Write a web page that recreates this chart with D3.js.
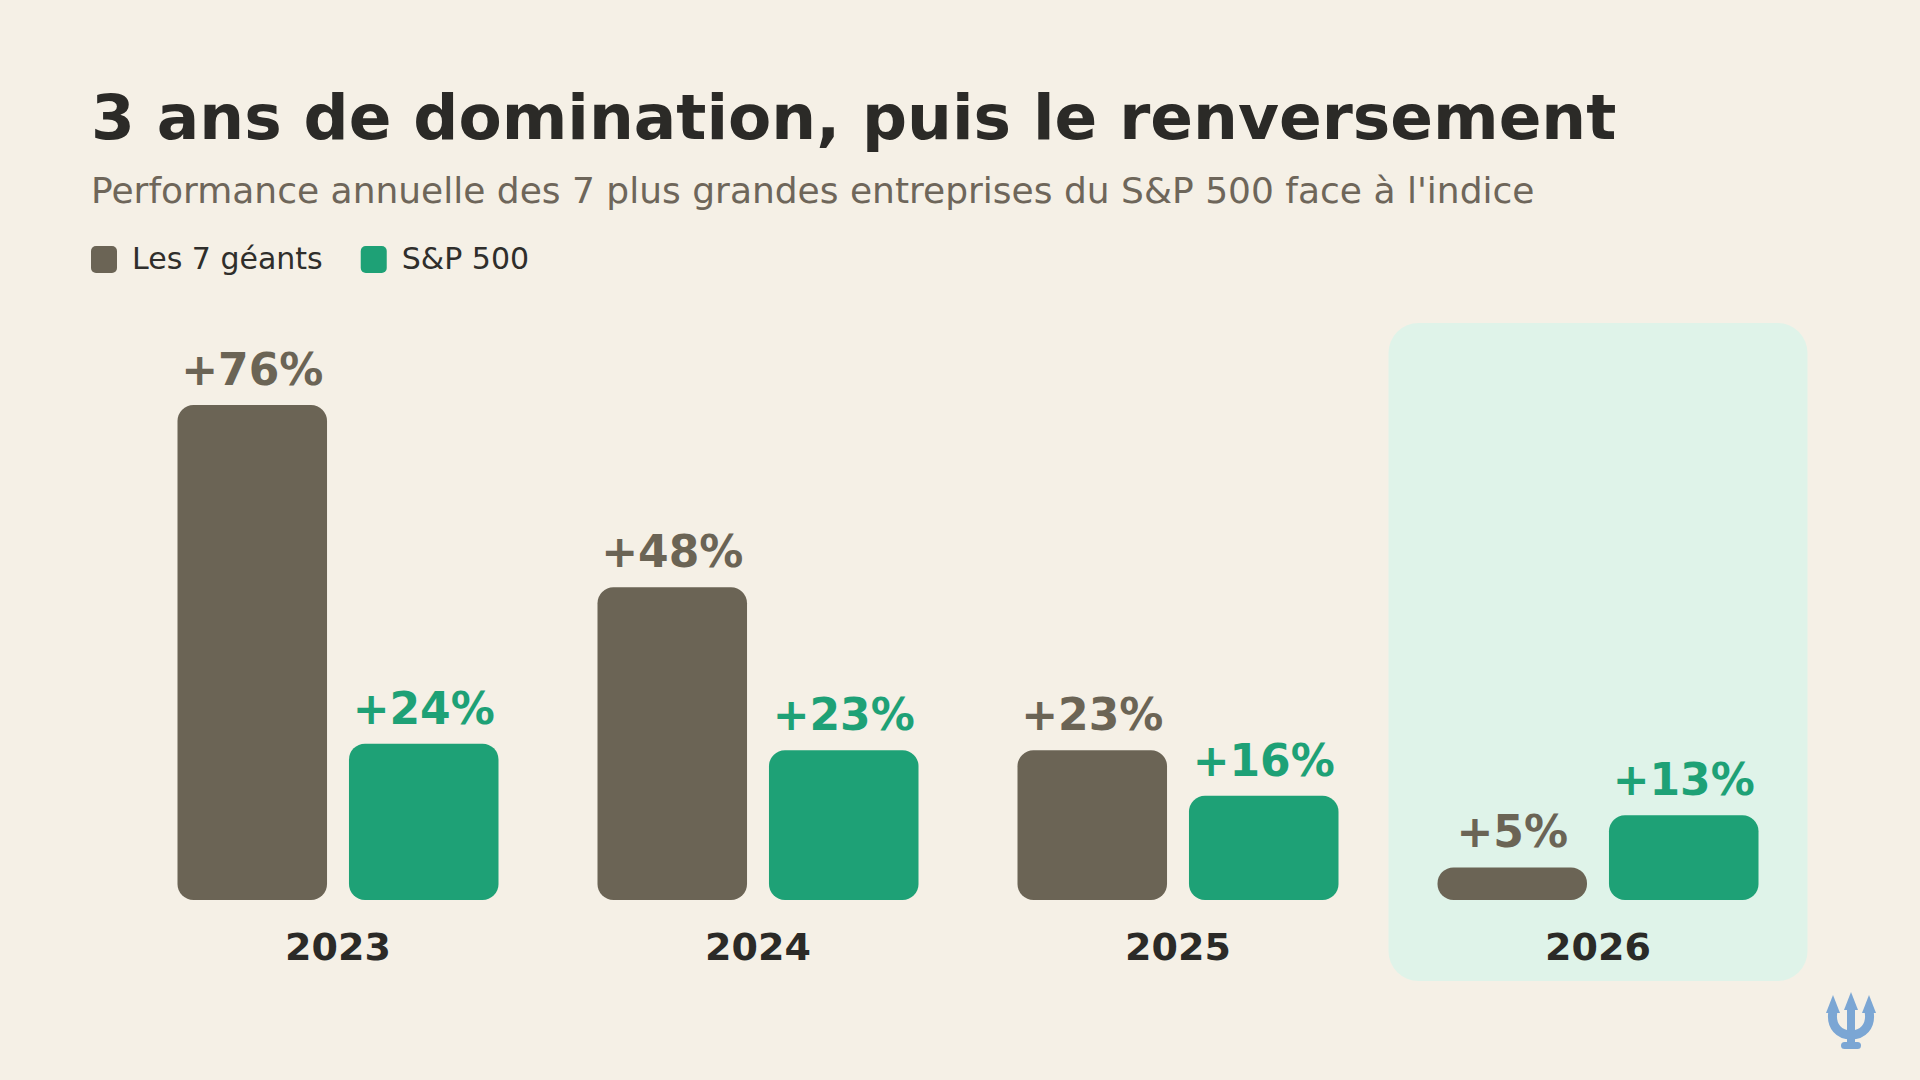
<!DOCTYPE html>
<html lang="fr">
<head>
<meta charset="utf-8">
<title>3 ans de domination, puis le renversement</title>
<script src="https://cdn.jsdelivr.net/npm/d3@7"></script>
<style>
  html, body { margin: 0; padding: 0; background: #f5f0e6; }
  svg { display: block; font-family: "DejaVu Sans", sans-serif; }
</style>
</head>
<body>
<div id="chart"></div>
<script>
// --- data ---
const years = ['2023', '2024', '2025', '2026'];
const seriesKeys = ['geants', 'sp500'];
const seriesLabels = ['Les 7 géants', 'S&P 500'];
const geants = [76, 48, 23, 5];
const sp500 = [24, 23, 16, 13];
const highlightYear = '2026';

const colors = { geants: '#6b6455', sp500: '#1ea176' };
const values = { geants, sp500 };

const width = 1920;
const height = 1080;

const svg = d3.select('#chart').append('svg')
  .attr('width', width)
  .attr('height', height)
  .attr('viewBox', `0 0 ${width} ${height}`);

svg.append('rect')
  .attr('width', width)
  .attr('height', height)
  .attr('fill', '#f5f0e6');

// title + subtitle
svg.append('text')
  .attr('x', 91).attr('y', 139)
  .attr('font-size', 63).attr('font-weight', 'bold')
  .attr('fill', '#2b2a27')
  .text('3 ans de domination, puis le renversement');

svg.append('text')
  .attr('x', 91).attr('y', 203)
  .attr('font-size', 36)
  .attr('fill', '#6e665a')
  .text("Performance annuelle des 7 plus grandes entreprises du S&P 500 face à l'indice");

// legend
const legend = svg.append('g').attr('transform', 'translate(91,246)');
let lx = 0;
seriesKeys.forEach((k, i) => {
  const item = legend.append('g').attr('transform', `translate(${lx},0)`);
  item.append('rect')
    .attr('width', 26).attr('height', 27).attr('rx', 5)
    .attr('fill', colors[k]);
  const t = item.append('text')
    .attr('x', 41).attr('y', 23)
    .attr('font-size', 30)
    .attr('fill', '#2f2e2b')
    .text(seriesLabels[i]);
  lx += 41 + t.node().getComputedTextLength() + 38;
});

// scales
const x0 = d3.scaleBand().domain(years).range([128, 1808]).paddingInner(0);
const x1 = d3.scaleBand().domain(seriesKeys).range([49.5, 370.5]).paddingInner(0.128);
const y = d3.scaleLinear().domain([0, 76]).range([900, 405]);

// highlight panel behind the last year
svg.append('rect')
  .attr('x', x0(highlightYear) + 0.5)
  .attr('y', 323)
  .attr('width', x0.bandwidth() - 1)
  .attr('height', 658)
  .attr('rx', 30)
  .attr('fill', '#dff3e9');

const groups = svg.selectAll('g.year')
  .data(years)
  .enter()
  .append('g')
  .attr('class', 'year')
  .attr('transform', d => `translate(${x0(d)},0)`);

groups.selectAll('rect.bar')
  .data((d, i) => seriesKeys.map(k => ({ key: k, value: values[k][i] })))
  .enter()
  .append('rect')
  .attr('class', 'bar')
  .attr('x', d => x1(d.key))
  .attr('y', d => y(d.value))
  .attr('width', x1.bandwidth())
  .attr('height', d => y(0) - y(d.value))
  .attr('rx', d => Math.min(16, (y(0) - y(d.value)) / 2))
  .attr('fill', d => colors[d.key]);

groups.selectAll('text.value')
  .data((d, i) => seriesKeys.map(k => ({ key: k, value: values[k][i] })))
  .enter()
  .append('text')
  .attr('class', 'value')
  .attr('x', d => x1(d.key) + x1.bandwidth() / 2)
  .attr('y', d => y(d.value) - 20)
  .attr('text-anchor', 'middle')
  .attr('font-size', 44)
  .attr('font-weight', 'bold')
  .attr('fill', d => colors[d.key])
  .text(d => `+${d.value}%`);

groups.append('text')
  .attr('x', x0.bandwidth() / 2)
  .attr('y', 960)
  .attr('text-anchor', 'middle')
  .attr('font-size', 38)
  .attr('font-weight', 'bold')
  .attr('fill', '#2b2a27')
  .text(d => d);

// trident mark, bottom right
const logo = svg.append('g')
  .attr('transform', 'translate(1851,1021)')
  .attr('fill', '#7ba6d4')
  .attr('stroke', '#7ba6d4');

logo.append('path')
  .attr('d', 'M0,-29 L7,-11 L-7,-11 Z')
  .attr('stroke', 'none');
logo.append('path')
  .attr('d', 'M-18,-26 L-11,-8 L-25,-8 Z')
  .attr('stroke', 'none');
logo.append('path')
  .attr('d', 'M18,-26 L25,-8 L11,-8 Z')
  .attr('stroke', 'none');
logo.append('path')
  .attr('d', 'M0,-14 L0,22')
  .attr('fill', 'none')
  .attr('stroke-width', 8);
logo.append('path')
  .attr('d', 'M-18,-10 C-21,6 -11,14 0,14 C11,14 21,6 18,-10')
  .attr('fill', 'none')
  .attr('stroke-width', 9)
  .attr('stroke-linecap', 'round');
logo.append('rect')
  .attr('x', -10).attr('y', 21)
  .attr('width', 20).attr('height', 7)
  .attr('rx', 3.5)
  .attr('stroke', 'none');
</script>
</body>
</html>
